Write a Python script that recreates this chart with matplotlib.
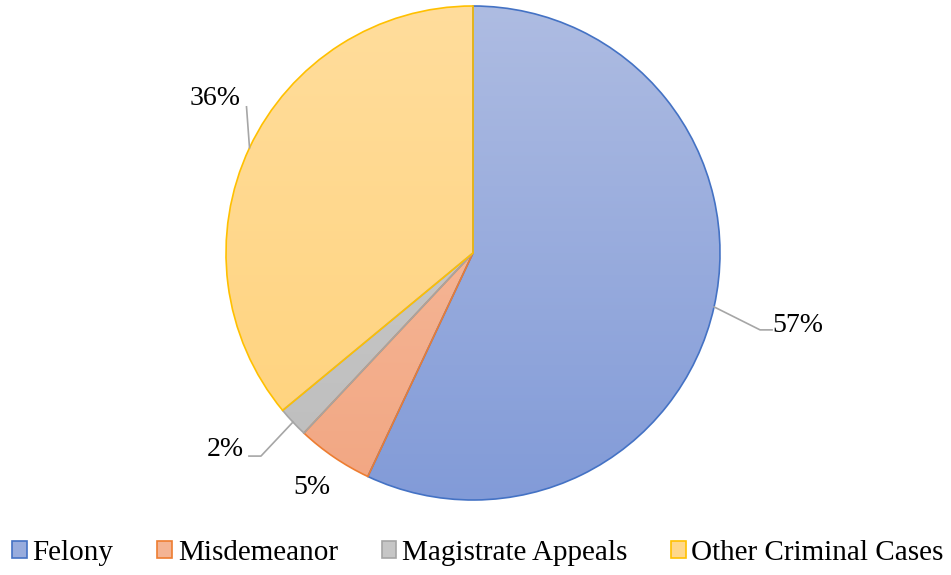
import numpy as np
import matplotlib
matplotlib.use("Agg")
import matplotlib.pyplot as plt
from matplotlib.colors import LinearSegmentedColormap
from matplotlib.patches import Patch

categories = ["Felony", "Misdemeanor", "Magistrate Appeals", "Other Criminal Cases"]
shares = [57, 5, 2, 36]
pct_labels = ["57%", "5%", "2%", "36%"]

edge_colors = ["#4472C4", "#ED7D31", "#A5A5A5", "#FFC000"]
top_colors = ["#AEBCE2", "#F7C3A6", "#CECECE", "#FFDD9C"]
bottom_colors = ["#829BD8", "#F2A682", "#BDBDBD", "#FFD27A"]

plt.rcParams["font.family"] = ["Liberation Serif", "DejaVu Serif"]

W, H = 951, 575
fig = plt.figure(figsize=(W / 100, H / 100), dpi=100)
ax = fig.add_axes([0, 0, 1, 1])

cx, cy, r = 473, H - 253, 247
wedges, _ = ax.pie(shares, startangle=90, counterclock=False, radius=r,
                   center=(cx, cy), frame=True,
                   wedgeprops=dict(linewidth=1.2))
ax.set_xlim(0, W)
ax.set_ylim(0, H)
ax.set_aspect("auto")
ax.axis("off")

# gradient fill for each wedge, clipped to the wedge shape
grad = np.linspace(0, 1, 256).reshape(-1, 1)
for w, ec, tc, bc in zip(wedges, edge_colors, top_colors, bottom_colors):
    w.set_facecolor("none")
    w.set_edgecolor(ec)
    w.set_zorder(3)
    cmap = LinearSegmentedColormap.from_list("g", [tc, bc])
    im = ax.imshow(grad, cmap=cmap, aspect="auto",
                   extent=(cx - r, cx + r, cy - r, cy + r),
                   origin="upper", zorder=2, interpolation="bilinear")
    im.set_clip_path(w)
ax.set_xlim(0, W)
ax.set_ylim(0, H)

# data labels with leader lines (elbow offsets / text offsets in pixels)
label_layout = {
    "57%": dict(elbow=(46, -23), end=(58, -23), text=(84, -19), line=True),
    "5%": dict(elbow=None, end=None, text=(-6, 0), line=False),
    "2%": dict(elbow=(-32, -34), end=(-44, -34), text=(-68, -27), line=True),
    "36%": dict(elbow=(-3, 41), end=(-3, 41), text=(-34, 49), line=True),
}
cum = 0
for s, lab in zip(shares, pct_labels):
    mid = 90 - (cum + s / 2) / sum(shares) * 360
    cum += s
    ex = cx + r * np.cos(np.radians(mid))
    ey = cy + r * np.sin(np.radians(mid))
    lay = label_layout[lab]
    if lay["line"]:
        xs = [ex, ex + lay["elbow"][0], ex + lay["end"][0]]
        ys = [ey, ey + lay["elbow"][1], ey + lay["end"][1]]
        ax.plot(xs, ys, color="#A6A6A6", lw=1.2, zorder=4)
    if lab == "5%":
        tx, ty = 312, H - 488
    else:
        tx, ty = ex + lay["text"][0], ey + lay["text"][1]
    ax.text(tx, ty, lab, fontsize=20, ha="center", va="center", zorder=5)

handles = [Patch(facecolor=(np.array(matplotlib.colors.to_rgb(t)) + np.array(matplotlib.colors.to_rgb(b))) / 2,
                 edgecolor=ec, linewidth=1.2)
           for t, b, ec in zip(top_colors, bottom_colors, edge_colors)]
fig.legend(handles, categories, loc="center", bbox_to_anchor=(478 / W, 1 - 553 / H),
           ncol=4, frameon=False, fontsize=21, handlelength=0.5, handleheight=0.5,
           handletextpad=0.2, columnspacing=1.5, borderaxespad=0)

fig.savefig("out.png", dpi=100)
